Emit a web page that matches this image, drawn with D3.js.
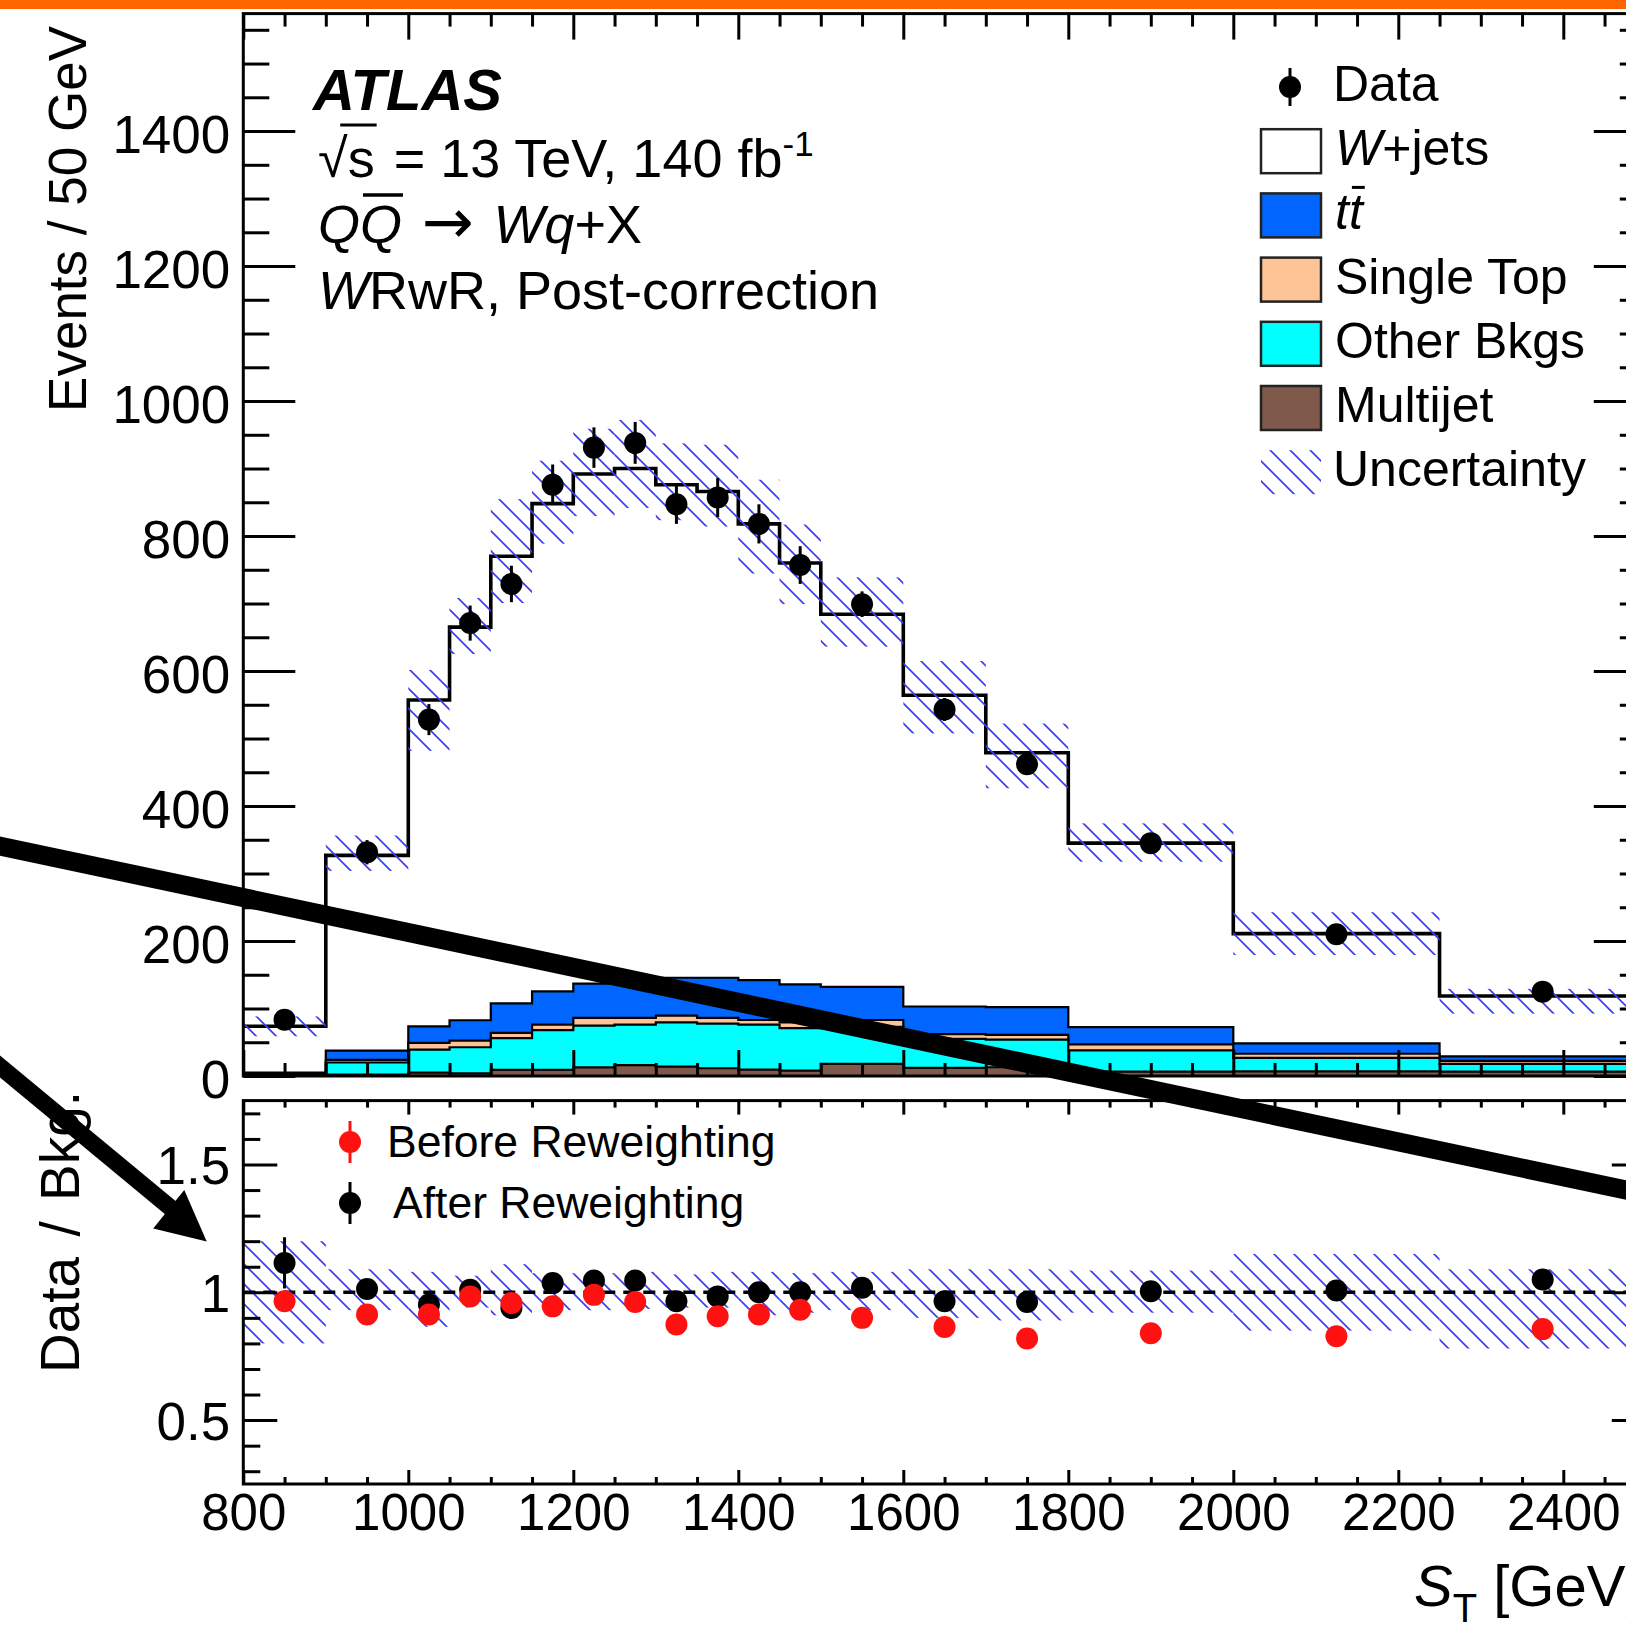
<!DOCTYPE html>
<html>
<head>
<meta charset="utf-8">
<script src="https://cdn.jsdelivr.net/npm/d3@7"></script>
<style>
  body { margin: 0; background: #fff; }
  svg { display: block; }
</style>
</head>
<body>
<svg id="chart" width="1626" height="1630"></svg>
<script>
// ---- data ----
const binEdges = [800, 900, 1000, 1050, 1100, 1150, 1200, 1250, 1300, 1350, 1400, 1450, 1500, 1600, 1700, 1800, 2000, 2250, 2500];
const multijet  = [1, 2, 5, 4, 9, 9, 12.7, 16, 14, 11.5, 9.5, 8, 18, 12, 13, 6.5, 7, 6.5];
const otherBkgs = [2, 18, 34, 38.6, 47, 59, 61.8, 60, 65.5, 66, 66.5, 63, 55, 43, 41, 31.5, 20, 11.5];
const singleTop = [0.5, 4, 10, 9.9, 8, 8, 11.5, 10, 9.9, 8.5, 7, 8.5, 10, 7, 7, 9, 6, 4.5];
const ttbar     = [1.5, 13.5, 24.6, 30.1, 43.7, 49.5, 51, 53, 56.2, 59.6, 59, 56.1, 49, 41, 41, 25.5, 15.3, 6.7];
const wjets     = [68.6, 289.3, 483.4, 582.4, 662.3, 722.5, 755, 761, 730.4, 720.4, 676, 624.4, 552, 461, 377, 272.5, 162.7, 89.3];
const dataVals  = [83.5, 331.5, 528, 671, 729, 876, 931, 938, 847, 857, 818, 757, 699, 543, 462, 345, 210, 125];
const dataErr   = [9, 18, 23, 26, 27, 30, 30, 31, 29, 29, 29, 28, 19, 17, 16, 9, 6, 5];
// relative uncertainty band (upper / lower edge, ratio units)
const uncHi = [1.2, 1.09, 1.08, 1.065, 1.11, 1.075, 1.075, 1.08, 1.07, 1.08, 1.08, 1.075, 1.08, 1.09, 1.09, 1.085, 1.15, 1.09];
const uncLo = [0.8, 0.93, 0.865, 0.94, 0.91, 0.93, 0.93, 0.935, 0.94, 0.94, 0.91, 0.92, 0.93, 0.9, 0.89, 0.92, 0.85, 0.78];
// ratio panel
const ratioAfter     = [1.115, 1.013, 0.952, 1.01, 0.939, 1.036, 1.046, 1.046, 0.965, 0.984, 1.0, 1.0, 1.018, 0.965, 0.962, 1.004, 1.007, 1.05];
const ratioAfterErr  = [0.1, 0.035, 0.035, 0.035, 0.035, 0.03, 0.03, 0.03, 0.03, 0.03, 0.03, 0.03, 0.025, 0.03, 0.03, 0.025, 0.025, 0.04];
const ratioBefore    = [0.965, 0.913, 0.913, 0.984, 0.958, 0.945, 0.99, 0.962, 0.874, 0.906, 0.913, 0.932, 0.9, 0.864, 0.819, 0.84, 0.828, 0.856];
const ratioBeforeErr = [0.04, 0.035, 0.035, 0.035, 0.035, 0.03, 0.03, 0.03, 0.03, 0.03, 0.03, 0.03, 0.025, 0.03, 0.03, 0.025, 0.025, 0.04];

const xTickLabels = [800, 1000, 1200, 1400, 1600, 1800, 2000, 2200, 2400];
const yTickLabels = [0, 200, 400, 600, 800, 1000, 1200, 1400];
const rTickLabels = [0.5, 1, 1.5];

const samples = ['multijet', 'other', 'single', 'ttbar', 'wjets'];
const colour = { wjets: '#ffffff', ttbar: '#0066ff', single: '#ffc496', other: '#00ffff', multijet: '#7f5a4c' };
const legendItems = [
  { key: 'wjets', label: 'W+jets' },
  { key: 'ttbar', label: 'tt' },
  { key: 'single', label: 'Single Top' },
  { key: 'other', label: 'Other Bkgs' },
  { key: 'multijet', label: 'Multijet' }
];

const FONT = '"Liberation Sans", Arial, Helvetica, sans-serif';

// ---- layout ----
const frame = { left: 243.3, right: 1645.8, top: 13.6, bottom: 1076, rTop: 1100.6, rBottom: 1484 };

const x = d3.scaleLinear().domain([800, 2500]).range([frame.left, frame.right]);
const y = d3.scaleLinear().domain([0, 1574]).range([frame.bottom, frame.top]);
const yr = d3.scaleLinear().domain([0.25, 1.75]).range([frame.rBottom, frame.rTop]);

const svg = d3.select('#chart');
svg.append('rect').attr('width', 1626).attr('height', 1630).attr('fill', '#fff');

// orange strip at the very top
svg.append('rect').attr('x', 0).attr('y', 0).attr('width', 1626).attr('height', 9).attr('fill', '#ff6600');

const defs = svg.append('defs');
const hatch = defs.append('pattern')
  .attr('id', 'hatch').attr('patternUnits', 'userSpaceOnUse')
  .attr('width', 20).attr('height', 20);
hatch.append('path')
  .attr('d', 'M-5,-5 L25,25 M-5,15 L5,25 M15,-5 L25,5')
  .attr('stroke', '#3c3cff').attr('stroke-width', 1.7).attr('fill', 'none');

defs.append('clipPath').attr('id', 'clipTop').append('rect')
  .attr('x', frame.left).attr('y', frame.top)
  .attr('width', frame.right - frame.left).attr('height', frame.bottom - frame.top);
defs.append('clipPath').attr('id', 'clipRatio').append('rect')
  .attr('x', frame.left).attr('y', frame.rTop)
  .attr('width', frame.right - frame.left).attr('height', frame.rBottom - frame.rTop);

// ---- table for the stack ----
const table = binEdges.slice(0, -1).map((lo, i) => ({
  lo, hi: binEdges[i + 1], centre: (lo + binEdges[i + 1]) / 2,
  multijet: multijet[i], other: otherBkgs[i], single: singleTop[i], ttbar: ttbar[i], wjets: wjets[i],
  data: dataVals[i], dataErr: dataErr[i],
  uncHi: uncHi[i], uncLo: uncLo[i],
  rA: ratioAfter[i], rAe: ratioAfterErr[i], rB: ratioBefore[i], rBe: ratioBeforeErr[i]
}));
table.forEach(d => { d.total = samples.reduce((s, k) => s + d[k], 0); });

const stack = d3.stack().keys(samples);
const layers = stack(table);

// step points: one per bin low edge plus the last high edge
const stepPts = (vals) => {
  const pts = table.map((d, i) => ({ x: d.lo, v: vals[i] }));
  pts.push({ x: table[table.length - 1].hi, v: vals[vals.length - 1] });
  return pts;
};

const upper = svg.append('g').attr('clip-path', 'url(#clipTop)');

const area = d3.area().curve(d3.curveStepAfter)
  .x(d => x(d.x)).y0(y(0)).y1(d => y(d.v));
const line = d3.line().curve(d3.curveStepAfter)
  .x(d => x(d.x)).y(d => y(d.v));

// draw cumulative histograms from the top of the stack down (like THStack)
layers.slice().reverse().forEach(layer => {
  const key = layer.key;
  const pts = stepPts(layer.map(s => s[1]));
  upper.append('path').attr('d', area(pts)).attr('fill', colour[key]);
  upper.append('path').attr('d', line(pts)).attr('fill', 'none')
    .attr('stroke', '#000').attr('stroke-width', key === 'wjets' ? 3.6 : 2.2);
});

// uncertainty hatch
upper.selectAll('rect.unc').data(table).join('rect').attr('class', 'unc')
  .attr('x', d => x(d.lo)).attr('width', d => x(d.hi) - x(d.lo))
  .attr('y', d => y(d.total * d.uncHi))
  .attr('height', d => y(d.total * d.uncLo) - y(d.total * d.uncHi))
  .attr('fill', 'url(#hatch)');

// data points
upper.selectAll('line.derr').data(table).join('line').attr('class', 'derr')
  .attr('x1', d => x(d.centre)).attr('x2', d => x(d.centre))
  .attr('y1', d => y(d.data + d.dataErr)).attr('y2', d => y(d.data - d.dataErr))
  .attr('stroke', '#000').attr('stroke-width', 3);
upper.selectAll('circle.data').data(table).join('circle').attr('class', 'data')
  .attr('cx', d => x(d.centre)).attr('cy', d => y(d.data)).attr('r', 11).attr('fill', '#000');

// ---- ratio panel ----
const rat = svg.append('g').attr('clip-path', 'url(#clipRatio)');
rat.selectAll('rect.unc').data(table).join('rect').attr('class', 'unc')
  .attr('x', d => x(d.lo)).attr('width', d => x(d.hi) - x(d.lo))
  .attr('y', d => yr(d.uncHi)).attr('height', d => yr(d.uncLo) - yr(d.uncHi))
  .attr('fill', 'url(#hatch)');
rat.append('line')
  .attr('x1', frame.left).attr('x2', frame.right).attr('y1', yr(1)).attr('y2', yr(1))
  .attr('stroke', '#000').attr('stroke-width', 3.5).attr('stroke-dasharray', '12 8');

const drawRatio = (key, errKey, col) => {
  rat.selectAll('line.e' + key).data(table).join('line').attr('class', 'e' + key)
    .attr('x1', d => x(d.centre)).attr('x2', d => x(d.centre))
    .attr('y1', d => yr(d[key] + d[errKey])).attr('y2', d => yr(d[key] - d[errKey]))
    .attr('stroke', col).attr('stroke-width', 3);
  rat.selectAll('circle.p' + key).data(table).join('circle').attr('class', 'p' + key)
    .attr('cx', d => x(d.centre)).attr('cy', d => yr(d[key])).attr('r', 11).attr('fill', col);
};
drawRatio('rA', 'rAe', '#000');
drawRatio('rB', 'rBe', '#ff1111');

// ---- axes ----
const minorX = d3.range(800, 2501, 50).filter(v => v % 200 !== 0);
const minorY = d3.range(0, 1574, 50).filter(v => v % 200 !== 0);
const minorR = d3.range(0.3, 1.75, 0.1).map(v => +v.toFixed(1)).filter(v => v !== 0.5 && v !== 1 && v !== 1.5);

const styleAxis = (g, size) => {
  g.select('.domain').remove();
  g.selectAll('.tick line').attr('stroke', '#000').attr('stroke-width', 3);
  g.selectAll('.tick text').attr('font-size', size).attr('font-family', FONT).attr('fill', '#000');
  return g;
};

const addAxis = (axis, tx, ty, size) =>
  styleAxis(svg.append('g').attr('transform', `translate(${tx},${ty})`).call(axis.tickSizeOuter(0)), size);

// upper panel
addAxis(d3.axisLeft(y).tickValues(yTickLabels).tickSize(-52).tickPadding(13).tickFormat(d3.format('d')), frame.left, 0, 53)
  .selectAll('.tick text').attr('dy', '0.4em');
addAxis(d3.axisLeft(y).tickValues(minorY).tickSize(-26).tickFormat(''), frame.left, 0, 0);
addAxis(d3.axisRight(y).tickValues(yTickLabels).tickSize(-52).tickFormat(''), frame.right, 0, 0);
addAxis(d3.axisRight(y).tickValues(minorY).tickSize(-26).tickFormat(''), frame.right, 0, 0);
addAxis(d3.axisTop(x).tickValues(xTickLabels).tickSize(-26).tickFormat(''), 0, frame.top, 0);
addAxis(d3.axisTop(x).tickValues(minorX).tickSize(-13).tickFormat(''), 0, frame.top, 0);
addAxis(d3.axisBottom(x).tickValues(xTickLabels).tickSize(-26).tickFormat(''), 0, frame.bottom, 0);
addAxis(d3.axisBottom(x).tickValues(minorX).tickSize(-13).tickFormat(''), 0, frame.bottom, 0);

// ratio panel
addAxis(d3.axisLeft(yr).tickValues(rTickLabels).tickSize(-34).tickPadding(13).tickFormat(d => d === 1 ? '1' : d3.format('.1f')(d)), frame.left, 0, 53)
  .selectAll('.tick text').attr('dy', '0.36em');
addAxis(d3.axisLeft(yr).tickValues(minorR).tickSize(-17).tickFormat(''), frame.left, 0, 0);
addAxis(d3.axisRight(yr).tickValues(rTickLabels).tickSize(-34).tickFormat(''), frame.right, 0, 0);
addAxis(d3.axisRight(yr).tickValues(minorR).tickSize(-17).tickFormat(''), frame.right, 0, 0);
addAxis(d3.axisTop(x).tickValues(xTickLabels).tickSize(-14).tickFormat(''), 0, frame.rTop, 0);
addAxis(d3.axisTop(x).tickValues(minorX).tickSize(-7).tickFormat(''), 0, frame.rTop, 0);
addAxis(d3.axisBottom(x).tickValues(xTickLabels).tickSize(-14).tickPadding(10).tickFormat(d3.format('d')), 0, frame.rBottom, 51);
addAxis(d3.axisBottom(x).tickValues(minorX).tickSize(-7).tickFormat(''), 0, frame.rBottom, 0);

// frames
[[frame.top, frame.bottom], [frame.rTop, frame.rBottom]].forEach(([t, b]) => {
  svg.append('rect').attr('x', frame.left).attr('y', t)
    .attr('width', frame.right - frame.left).attr('height', b - t)
    .attr('fill', 'none').attr('stroke', '#000').attr('stroke-width', 3);
});

// ---- axis titles ----
svg.append('text').attr('transform', 'translate(86,26) rotate(-90)')
  .attr('text-anchor', 'end').attr('font-family', FONT).attr('font-size', 53)
  .text('Events / 50 GeV');
svg.append('text').attr('transform', 'translate(79,1373) rotate(-90)')
  .attr('text-anchor', 'start').attr('font-family', FONT).attr('font-size', 55)
  .attr('word-spacing', 5)
  .text('Data / Bkg.');
const xt = svg.append('text').attr('x', 1414).attr('y', 1606)
  .attr('font-family', FONT).attr('font-size', 58);
xt.append('tspan').attr('font-style', 'italic').text('S');
xt.append('tspan').attr('font-size', 40).attr('dy', 16).text('T');
xt.append('tspan').attr('dy', -16).text(' [GeV]');

// ---- ATLAS label block ----
const info = svg.append('g').attr('font-family', FONT).attr('fill', '#000');
info.append('text').attr('x', 313).attr('y', 110).attr('font-size', 58)
  .attr('font-weight', 'bold').attr('font-style', 'italic').text('ATLAS');

const l2 = info.append('text').attr('x', 318).attr('y', 177).attr('font-size', 54);
l2.append('tspan').text('\u221As');
l2.append('tspan').attr('dx', 4).text(' = 13 TeV, 140 fb');
l2.append('tspan').attr('font-size', 35).attr('dy', -21).text('-1');
{
  const n = l2.node();
  const r = n.getExtentOfChar(0), s = n.getExtentOfChar(1);
  info.append('line').attr('x1', r.x + r.width * 0.75).attr('x2', s.x + s.width + 2)
    .attr('y1', 125).attr('y2', 125).attr('stroke', '#000').attr('stroke-width', 3);
}

const l3 = info.append('text').attr('x', 318).attr('y', 243).attr('font-size', 54);
l3.append('tspan').attr('font-style', 'italic').text('QQ');
l3.append('tspan').attr('font-family', '"DejaVu Sans", sans-serif').attr('font-size', 62).text(' \u2192 ');
l3.append('tspan').attr('font-style', 'italic').text('Wq');
l3.append('tspan').text('+X');
{
  const q = l3.node().getExtentOfChar(1);
  info.append('line').attr('x1', q.x + 3).attr('x2', q.x + q.width + 1)
    .attr('y1', 195).attr('y2', 195).attr('stroke', '#000').attr('stroke-width', 3.5);
}

const l4 = info.append('text').attr('x', 318).attr('y', 309).attr('font-size', 54);
l4.append('tspan').attr('font-style', 'italic').text('W');
l4.append('tspan').text('RwR, Post-correction');

// ---- main legend ----
const leg = svg.append('g').attr('font-family', FONT).attr('font-size', 50);
const rowY = i => 87 + i * 64.2;
leg.append('line').attr('x1', 1290).attr('x2', 1290).attr('y1', rowY(0) - 19).attr('y2', rowY(0) + 19)
  .attr('stroke', '#000').attr('stroke-width', 3);
leg.append('circle').attr('cx', 1290).attr('cy', rowY(0)).attr('r', 11);
leg.append('text').attr('x', 1333).attr('y', rowY(0) + 14).text('Data');

legendItems.forEach((it, k) => {
  const cy = rowY(k + 1);
  leg.append('rect').attr('x', 1261).attr('y', cy - 22).attr('width', 60).attr('height', 44)
    .attr('fill', colour[it.key]).attr('stroke', '#222').attr('stroke-width', 2.5);
  const t = leg.append('text').attr('x', 1335).attr('y', cy + 14);
  if (it.key === 'wjets') {
    t.append('tspan').attr('font-style', 'italic').text('W');
    t.append('tspan').text('+jets');
  } else if (it.key === 'ttbar') {
    t.append('tspan').attr('font-style', 'italic').text(it.label);
    const c = t.node().getExtentOfChar(1);
    leg.append('line').attr('x1', c.x + 3).attr('x2', c.x + c.width + 2)
      .attr('y1', cy - 28).attr('y2', cy - 28).attr('stroke', '#000').attr('stroke-width', 3);
  } else {
    t.text(it.label);
  }
});
{
  const cy = rowY(6);
  leg.append('rect').attr('x', 1261).attr('y', cy - 22).attr('width', 60).attr('height', 44)
    .attr('fill', 'url(#hatch)');
  leg.append('text').attr('x', 1333).attr('y', cy + 14).text('Uncertainty');
}

// ---- ratio legend ----
const rleg = svg.append('g').attr('font-family', FONT).attr('font-size', 44.5);
[{ y: 1142, col: '#ff1111', label: 'Before Reweighting', tx: 387 },
 { y: 1203, col: '#000', label: 'After Reweighting', tx: 393 }].forEach(e => {
  rleg.append('line').attr('x1', 350).attr('x2', 350).attr('y1', e.y - 21).attr('y2', e.y + 21)
    .attr('stroke', e.col).attr('stroke-width', 3);
  rleg.append('circle').attr('cx', 350).attr('cy', e.y).attr('r', 11).attr('fill', e.col);
  rleg.append('text').attr('x', e.tx).attr('y', e.y + 15).text(e.label);
});

// ---- hand-drawn annotation strokes over the figure ----
const annot = svg.append('g').attr('stroke', '#000').attr('fill', '#000');
annot.append('line').attr('x1', -10).attr('y1', 844).attr('x2', 1640).attr('y2', 1193)
  .attr('stroke-width', 19);
annot.append('line').attr('x1', -20).attr('y1', 1050).attr('x2', 172).attr('y2', 1209)
  .attr('stroke-width', 17);
annot.append('path').attr('d', 'M155,1228 L184,1192 L205,1240 Z').attr('stroke-width', 2);
</script>
</body>
</html>
